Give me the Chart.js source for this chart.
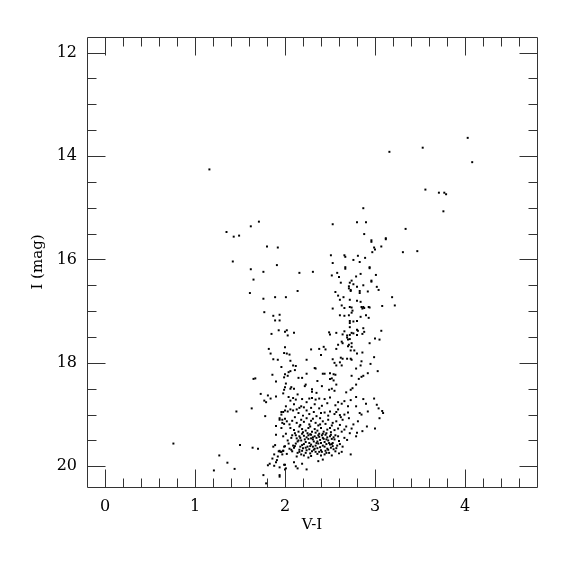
<!DOCTYPE html>
<html><head><meta charset="utf-8">
<script src="https://cdn.jsdelivr.net/npm/chart.js@4/dist/chart.umd.min.js"></script>
<style>html,body{margin:0;padding:0;background:#fff}</style>
</head><body>
<canvas id="c" width="575" height="575"></canvas>
<script>
const xTitle = 'V-I';
const yTitle = 'I (mag)';
const xRange = [-0.2, 4.8];
const yRange = [11.7, 20.4];
const xMajorTicks = [0, 1, 2, 3, 4];
const xMinorTicks = [0.2,0.4,0.6,0.8,1.2,1.4,1.6,1.8,2.2,2.4,2.6,2.8,3.2,3.4,3.6,3.8,4.2,4.4,4.6];
const yMajorTicks = [12, 14, 16, 18, 20];
const yMinorTicks = [12.5,13,13.5,14.5,15,15.5,16.5,17,17.5,18.5,19,19.5];

const brightStars = [[1.16,14.26],[4.03,13.65],[3.53,13.84],[3.16,13.92],[4.08,14.12],[3.56,14.65],[3.71,14.71],[3.77,14.71],[3.79,14.74],[3.76,15.07],[2.87,15.01],[1.35,15.47],[1.43,15.56],[1.49,15.54],[1.71,15.27],[1.62,15.36],[2.53,15.32],[2.80,15.28],[2.90,15.28],[3.34,15.41],[2.88,15.51],[2.96,15.63],[2.96,15.66],[3.12,15.59],[3.12,15.61]];

const upperStars = [[1.42,16.04],[1.80,15.75],[1.92,15.77],[3.07,15.75],[3.00,15.81],[2.97,15.86],[2.99,15.77],[3.31,15.86],[3.47,15.84],[1.91,16.11],[2.51,15.92],[2.66,15.92],[2.67,15.95],[2.81,15.93],[2.76,16.01],[2.89,15.97],[2.83,16.05],[2.53,16.07],[2.67,16.15],[2.67,16.18],[2.94,16.15],[2.94,16.17]];

const blueBranch = [[1.62,16.19],[1.76,16.24],[2.16,16.26],[2.31,16.24],[1.65,16.39],[2.14,16.61],[1.61,16.65],[1.76,16.76],[1.89,16.73],[2.01,16.73],[1.77,17.02],[1.87,17.09],[1.94,17.07],[1.89,17.18],[1.94,17.18],[1.85,17.44],[1.93,17.37],[2.00,17.40],[2.02,17.37],[2.03,17.47],[2.10,17.42],[1.82,17.73],[1.84,17.82],[2.00,17.70],[1.99,17.81],[2.02,17.82],[2.05,17.84],[1.87,17.93],[1.92,17.94],[2.06,17.96],[2.24,17.94],[1.96,18.08],[2.09,18.05],[2.12,18.06],[2.11,18.14],[2.04,18.18],[2.06,18.16],[2.00,18.22],[1.86,18.23],[1.99,18.28],[2.03,18.25],[2.15,18.29],[2.19,18.29],[2.24,18.21],[1.67,18.30],[1.65,18.31]];

const redBranch = [[2.84,16.28],[2.58,16.26],[2.52,16.31],[2.60,16.34],[2.79,16.33],[3.01,16.30],[2.96,16.41],[2.96,16.43],[2.62,16.45],[2.74,16.41],[2.72,16.45],[2.76,16.48],[2.80,16.53],[2.87,16.50],[2.71,16.52],[2.71,16.56],[2.73,16.59],[2.73,16.61],[2.83,16.61],[2.83,16.65],[3.02,16.53],[3.04,16.59],[2.56,16.63],[2.59,16.70],[2.61,16.78],[2.65,16.73],[2.92,16.62],[2.72,16.78],[2.80,16.80],[2.84,16.82],[3.19,16.73],[2.53,16.95],[2.63,16.89],[2.66,16.94],[2.72,16.92],[2.74,16.93],[2.75,16.99],[2.74,17.03],[2.71,17.08],[2.85,16.92],[2.87,16.92],[2.86,16.95],[2.88,16.94],[2.93,16.92],[2.94,16.93],[3.08,16.90],[3.22,16.89],[2.61,17.08],[2.66,17.09],[2.76,17.20],[2.80,17.19],[2.84,17.11],[2.90,17.08],[2.93,17.13],[2.72,17.19],[2.72,17.23],[2.72,17.31],[2.80,17.36],[2.87,17.33],[2.88,17.40],[2.86,17.44],[2.66,17.39],[2.69,17.47],[2.69,17.51],[2.72,17.46],[2.74,17.42],[2.76,17.43],[2.70,17.55],[2.72,17.54],[3.07,17.38],[3.00,17.53],[3.05,17.55],[2.49,17.41],[2.50,17.45],[2.57,17.42],[2.64,17.45],[2.81,17.38],[2.80,17.46],[2.94,17.62],[2.71,17.65],[2.74,17.62],[2.70,17.68],[2.74,17.69],[2.63,17.59],[2.64,17.62],[2.59,17.65],[2.57,17.73],[2.29,17.74],[2.38,17.73],[2.43,17.69],[2.45,17.74],[2.40,17.85],[2.77,17.76],[2.80,17.82],[2.86,17.80],[2.73,17.76],[2.53,17.93],[2.62,17.90],[2.64,17.92],[2.69,17.92],[2.73,17.92],[2.74,17.94],[2.85,17.97],[2.84,18.05],[2.55,18.00],[2.61,17.99],[2.57,18.05],[2.63,18.05],[2.79,18.11],[2.95,18.02],[2.99,17.89],[3.03,18.16],[2.92,18.20],[2.87,18.25],[2.74,18.25],[2.33,18.10],[2.34,18.11],[2.42,18.21],[2.44,18.21],[2.50,18.20],[2.54,18.22],[2.56,18.23],[2.50,18.31],[2.52,18.30],[2.82,18.31],[2.85,18.27]];

const lowerLeft = [[0.76,19.56],[1.90,18.36],[1.99,18.52],[1.73,18.60],[1.81,18.63],[1.77,18.73],[1.79,18.76],[1.84,18.69],[1.90,18.65],[1.63,18.88],[1.46,18.94],[1.78,19.03],[1.98,18.95],[1.96,19.00],[1.94,19.07],[1.97,19.10],[1.99,19.18],[1.90,19.22],[1.96,19.26],[1.90,19.39],[1.50,19.59],[1.64,19.64],[1.70,19.66],[1.89,19.59],[1.87,19.62],[1.93,19.71],[1.94,19.70],[1.96,19.72],[1.99,19.62],[1.98,19.70],[1.88,19.77],[1.92,19.81],[1.97,19.77],[1.86,19.85],[1.91,19.88],[1.83,19.95],[1.90,19.92],[1.81,19.98],[1.88,19.99],[1.94,20.02],[1.99,19.97],[1.27,19.79],[1.36,19.93],[1.21,20.08],[1.44,20.05],[1.76,20.17],[1.79,20.33],[1.94,20.20],[2.00,20.06]];

const lowerCluster = [[2.01,18.40],[2.00,18.47],[2.06,18.50],[2.07,18.47],[2.10,18.50],[2.22,18.45],[2.23,18.42],[2.30,18.51],[2.30,18.56],[2.35,18.58],[2.36,18.35],[2.41,18.45],[2.49,18.52],[2.52,18.50],[2.55,18.54],[2.54,18.34],[2.57,18.42],[2.68,18.57],[2.73,18.52],[2.79,18.42],[2.75,18.49],
[1.98,18.59],[2.04,18.66],[2.06,18.73],[2.09,18.68],[2.12,18.71],[2.14,18.61],[2.19,18.70],[2.24,18.76],[2.27,18.69],[2.30,18.68],[2.34,18.71],[2.38,18.69],[2.44,18.70],[2.50,18.67],[2.59,18.76],[2.63,18.79],[2.66,18.74],[2.73,18.72],[2.79,18.66],[2.87,18.70],[2.90,18.79],[2.99,18.69],[3.02,18.81],[3.04,18.88],[3.08,18.93],
[1.96,18.95],[2.00,18.92],[2.03,18.94],[2.06,18.90],[2.09,18.92],[2.13,18.90],[2.01,18.84],[2.16,18.87],[2.21,18.86],[2.24,18.92],[2.29,18.87],[2.32,18.95],[2.38,18.88],[2.40,18.97],[2.50,18.94],[2.55,18.99],[2.59,18.90],[2.61,19.01],[2.66,19.00],[2.70,18.84],[2.79,18.84],[2.83,18.97],[2.85,19.00],[2.92,18.94],[3.05,19.07],[3.09,18.97],
[1.94,19.10],[1.97,19.16],[2.00,19.08],[2.02,19.13],[2.05,19.19],[2.08,19.12],[2.11,19.05],[2.13,19.16],[2.16,19.23],[2.18,19.10],[2.21,19.14],[2.24,19.07],[2.27,19.19],[2.29,19.12],[2.31,19.08],[2.34,19.16],[2.37,19.21],[2.39,19.07],[2.42,19.13],[2.45,19.18],[2.48,19.10],[2.50,19.26],[2.53,19.16],[2.57,19.13],[2.62,19.05],[2.64,19.10],[2.68,19.23],[2.71,19.07],[2.76,19.19],[2.81,19.13],[2.86,19.32],[2.91,19.23],[3.00,19.27],
[1.98,19.42],[2.01,19.37],[2.03,19.50],[2.07,19.45],[2.11,19.36],[2.14,19.52],[2.16,19.42],[2.19,19.37],[2.22,19.48],[2.24,19.44],[2.27,19.55],[2.29,19.39],[2.31,19.48],[2.33,19.42],[2.36,19.52],[2.38,19.37],[2.40,19.55],[2.42,19.45],[2.45,19.39],[2.48,19.50],[2.50,19.42],[2.53,19.55],[2.55,19.48],[2.59,19.42],[2.61,19.57],[2.66,19.45],[2.72,19.36],[2.79,19.42],
[1.95,19.72],[1.98,19.70],[2.00,19.61],[2.02,19.76],[2.05,19.66],[2.08,19.71],[2.11,19.61],[2.13,19.81],[2.16,19.68],[2.18,19.77],[2.20,19.65],[2.23,19.74],[2.26,19.83],[2.28,19.61],[2.30,19.71],[2.33,19.66],[2.36,19.76],[2.39,19.63],[2.41,19.72],[2.44,19.77],[2.47,19.66],[2.50,19.58],[2.53,19.61],[2.56,19.71],[2.63,19.72],[2.73,19.77],
[2.00,19.97],[2.01,20.04],[2.10,19.92],[2.12,20.00],[2.14,20.04],[2.19,19.95],[2.24,20.06],[2.37,19.90],[2.42,19.87],[1.94,20.17],
[2.06,19.26],[2.10,19.30],[2.15,19.33],[2.19,19.28],[2.23,19.31],[2.26,19.26],[2.30,19.33],[2.33,19.28],[2.36,19.31],[2.40,19.26],[2.43,19.33],[2.47,19.29],[2.51,19.34],[2.55,19.30],[2.59,19.27],[2.63,19.33],
[2.08,19.40],[2.13,19.46],[2.18,19.50],[2.21,19.41],[2.26,19.47],[2.28,19.38],[2.32,19.52],[2.35,19.45],[2.39,19.49],[2.41,19.40],[2.44,19.53],[2.47,19.44],[2.52,19.47],[2.56,19.40],[2.60,19.51],[2.69,19.49],
[2.04,19.56],[2.09,19.60],[2.12,19.56],[2.17,19.62],[2.21,19.57],[2.25,19.62],[2.29,19.58],[2.34,19.60],[2.37,19.56],[2.42,19.60],[2.46,19.57],[2.51,19.64],[2.58,19.60],[2.64,19.62],
[2.07,19.68],[2.14,19.74],[2.19,19.70],[2.24,19.69],[2.28,19.75],[2.32,19.68],[2.38,19.72],[2.45,19.70],[2.49,19.74],[2.54,19.67],[2.60,19.75],
[2.15,18.97],[2.20,19.02],[2.27,18.99],[2.35,19.03],[2.44,18.96],[2.48,19.02],[2.57,18.95],[2.70,18.96],
[2.10,18.80],[2.18,18.84],[2.33,18.80],[2.41,18.83],[2.47,18.78],[2.56,18.82]];

const coreStars = [[2.17,19.45],[2.23,19.53],[2.26,19.40],[2.31,19.44],[2.35,19.55],[2.38,19.43],[2.43,19.47],[2.46,19.36],[2.49,19.55],[2.54,19.44],
[2.19,19.59],[2.23,19.64],[2.27,19.67],[2.31,19.62],[2.36,19.65],[2.40,19.69],[2.44,19.62],[2.48,19.68],[2.52,19.57],[2.57,19.65],
[2.12,19.40],[2.15,19.50],[2.20,19.34],[2.25,19.36],[2.29,19.46],[2.34,19.35],[2.37,19.40],[2.42,19.37],[2.46,19.48],[2.51,19.39],
[2.10,19.64],[2.16,19.72],[2.21,19.79],[2.29,19.80],[2.34,19.72],[2.40,19.79],[2.46,19.74],[2.52,19.79],[2.17,19.20],[2.28,19.23],
[2.39,19.19],[2.52,19.21],[2.61,19.20],[2.66,19.29],[2.74,19.27],[2.80,19.35]];

const allStars = [].concat(brightStars, upperStars, blueBranch, redBranch, lowerLeft, lowerCluster, coreStars)
  .map(([vi, mag]) => ({x: vi, y: mag}));

const inkColor = '#000';
const tickFont = {family: 'DejaVu Serif', size: 16};
const titleFont = {family: 'DejaVu Serif', size: 15};

const frameTicks = {
  id: 'frameTicks',
  afterDraw(chart) {
    const {ctx, chartArea: a, scales: {x, y}} = chart;
    ctx.save();
    ctx.strokeStyle = '#333';
    ctx.lineWidth = 1;
    const L = Math.round(a.left) + 0.5, R = Math.round(a.right) + 0.5;
    const T = Math.round(a.top) + 0.5, B = Math.round(a.bottom) + 0.5;
    ctx.beginPath();
    ctx.rect(L, T, R - L, B - T);
    const vt = (v, len) => {
      const p = Math.round(x.getPixelForValue(v)) + 0.5;
      ctx.moveTo(p, B); ctx.lineTo(p, B - len);
      ctx.moveTo(p, T); ctx.lineTo(p, T + len);
    };
    const ht = (v, len) => {
      const p = Math.round(y.getPixelForValue(v)) + 0.5;
      ctx.moveTo(L, p); ctx.lineTo(L + len, p);
      ctx.moveTo(R, p); ctx.lineTo(R - len, p);
    };
    xMajorTicks.forEach(v => vt(v, 18));
    xMinorTicks.forEach(v => vt(v, 9));
    yMajorTicks.forEach(v => ht(v, 18));
    yMinorTicks.forEach(v => ht(v, 9));
    ctx.stroke();
    ctx.restore();
  }
};

new Chart(document.getElementById('c'), {
  type: 'scatter',
  data: {datasets: [{
    data: allStars,
    pointStyle: 'rect',
    pointRadius: 1.4,
    borderWidth: 0,
    backgroundColor: '#000'
  }]},
  options: {
    responsive: false,
    animation: false,
    events: [],
    layout: {padding: {top: 37, right: 38, left: 0, bottom: 0}},
    plugins: {legend: {display: false}, tooltip: {enabled: false}},
    scales: {
      x: {
        type: 'linear', position: 'bottom',
        min: xRange[0], max: xRange[1],
        grid: {display: false, drawTicks: false},
        border: {display: false},
        ticks: {font: tickFont, color: inkColor, padding: 10, maxRotation: 0},
        afterBuildTicks: s => { s.ticks = xMajorTicks.map(v => ({value: v})); },
        afterFit: s => { s.height = 88; },
        title: {display: true, text: xTitle, font: titleFont, color: inkColor, padding: {top: 0, bottom: 41}}
      },
      y: {
        type: 'linear', position: 'left', reverse: true,
        min: yRange[0], max: yRange[1],
        grid: {display: false, drawTicks: false},
        border: {display: false},
        ticks: {font: tickFont, color: inkColor, padding: 10},
        afterBuildTicks: s => { s.ticks = yMajorTicks.map(v => ({value: v})); },
        afterFit: s => { s.width = 87; },
        title: {display: true, text: yTitle, font: titleFont, color: inkColor, padding: {top: 29, bottom: 0}}
      }
    }
  },
  plugins: [frameTicks]
});
</script>
</body></html>
